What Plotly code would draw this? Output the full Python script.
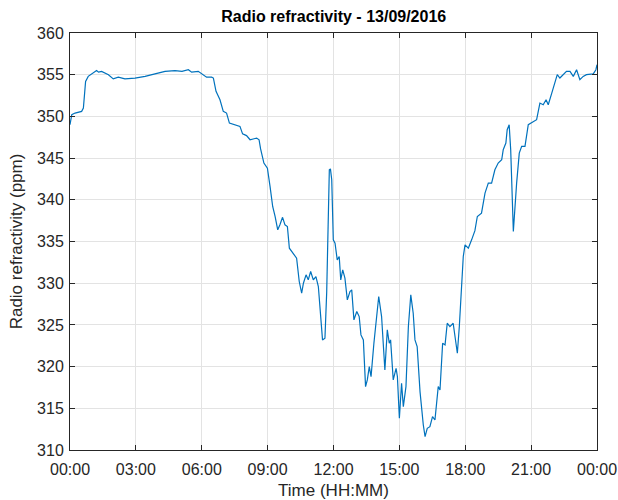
import plotly.graph_objects as go

# Time of day (decimal hours) and radio refractivity (ppm)
hours = [
    0.00, 0.08, 0.23, 0.53, 0.61, 0.71, 0.83, 1.06, 1.21, 1.30, 1.44, 1.75, 1.97,
    2.20, 2.50, 2.96, 3.42, 3.87, 4.33, 4.78, 5.10, 5.39, 5.54, 5.84, 6.07, 6.22,
    6.45, 6.53, 6.65, 6.83, 6.98, 7.13, 7.26, 7.51, 7.74, 7.86, 8.04, 8.20, 8.35,
    8.50, 8.61, 8.68, 8.83, 8.99, 9.11, 9.23, 9.34, 9.46, 9.56, 9.68, 9.79, 9.90,
    9.99, 10.17, 10.32, 10.44, 10.55, 10.63, 10.75, 10.85, 10.96, 11.08, 11.20,
    11.31, 11.38, 11.50, 11.61, 11.69, 11.81, 11.86, 11.92, 11.99, 12.07, 12.17,
    12.26, 12.33, 12.42, 12.52, 12.63, 12.75, 12.83, 12.93, 13.06, 13.17, 13.25,
    13.36, 13.46, 13.54, 13.63, 13.71, 13.84, 14.06, 14.19, 14.34, 14.45, 14.54,
    14.60, 14.72, 14.85, 14.91, 15.00, 15.10, 15.18, 15.30, 15.41, 15.52, 15.63,
    15.71, 15.81, 15.94, 16.09, 16.17, 16.27, 16.39, 16.51, 16.62, 16.77, 16.85,
    16.97, 17.08, 17.18, 17.30, 17.45, 17.53, 17.64, 17.73, 17.80, 17.91, 17.99,
    18.14, 18.29, 18.44, 18.55, 18.74, 18.90, 19.05, 19.20, 19.35, 19.50, 19.66,
    19.73, 19.85, 19.91, 20.00, 20.07, 20.19, 20.34, 20.46, 20.57, 20.72, 20.87,
    21.10, 21.25, 21.40, 21.55, 21.68, 21.78, 21.94, 22.01, 22.13, 22.19, 22.31,
    22.46, 22.61, 22.77, 22.92, 23.07, 23.22, 23.37, 23.52, 23.83, 23.95, 24.00,
]
refractivity = [
    349.0, 350.2, 350.4, 350.6, 351.0, 354.2, 354.8, 355.2, 355.5, 355.3, 355.4, 355.0, 354.5,
    354.7, 354.5, 354.6, 354.8, 355.1, 355.4, 355.5, 355.4, 355.6, 355.3, 355.4, 355.0, 354.7,
    354.7, 354.6, 353.0, 352.0, 350.6, 350.4, 349.2, 349.0, 348.8, 347.9, 347.7, 347.2, 347.3,
    347.4, 347.2, 346.1, 344.4, 343.8, 341.6, 339.2, 338.0, 336.4, 337.0, 337.9, 337.0, 336.8,
    334.2, 333.6, 333.0, 330.2, 328.8, 330.0, 331.0, 330.4, 331.4, 330.4, 330.8,
    329.6, 326.8, 323.2, 323.4, 328.9, 343.6, 343.7, 342.4, 335.2, 334.8, 332.8,
    333.2, 330.4, 331.6, 330.6, 328.0, 329.0, 329.2, 325.6, 326.6, 326.0, 323.8,
    323.2, 317.6, 318.4, 320.0, 318.8, 322.8, 328.4, 326.0, 319.6, 324.4, 322.8,
    323.2, 318.4, 319.8, 318.8, 313.8, 318.0, 315.2, 317.6, 324.8, 328.6, 326.4,
    323.2, 322.4, 317.0, 313.0, 311.6, 312.6, 312.8, 314.0, 313.6, 317.6, 317.2,
    322.8, 322.6, 325.2, 324.8, 325.2, 323.6, 321.6, 324.8, 328.8, 333.2, 334.6,
    334.2, 335.2, 336.3, 338.0, 338.4, 340.8, 342.0, 342.0, 343.6, 344.4, 344.8,
    346.0, 346.8, 348.4, 349.0, 346.0, 336.2, 342.0, 345.6, 346.4, 346.4, 349.0,
    349.4, 349.6, 351.6, 351.4, 352.0, 351.4, 352.8, 353.4, 354.4, 355.0, 354.6,
    355.0, 355.4, 355.4, 354.8, 355.6, 354.4, 354.8, 355.0, 355.1, 355.6, 356.2,
]

tick_hours = [0, 3, 6, 9, 12, 15, 18, 21, 24]
tick_labels = ["00:00", "03:00", "06:00", "09:00", "12:00", "15:00", "18:00", "21:00", "00:00"]

FONT = "Liberation Sans, Arial, Helvetica, sans-serif"
AXIS_COLOR = "#262626"
GRID_COLOR = "#e3e3e3"

fig = go.Figure(
    go.Scatter(
        x=hours,
        y=refractivity,
        mode="lines",
        line=dict(color="#0072BD", width=1.2),
        showlegend=False,
    )
)

axis_common = dict(
    showline=True,
    linecolor=AXIS_COLOR,
    linewidth=1,
    mirror="ticks",
    ticks="inside",
    ticklen=5,
    tickcolor=AXIS_COLOR,
    showgrid=True,
    gridcolor=GRID_COLOR,
    gridwidth=1,
    zeroline=False,
    automargin=False,
    tickfont=dict(family=FONT, size=16, color=AXIS_COLOR),
)

fig.update_xaxes(
    range=[0, 24],
    tickmode="array",
    tickvals=tick_hours,
    ticktext=tick_labels,
    ticklabelstandoff=5,
    title=dict(text="Time (HH:MM)", font=dict(family=FONT, size=17, color=AXIS_COLOR), standoff=9),
    **axis_common,
)
fig.update_yaxes(
    range=[310, 360],
    tick0=310,
    dtick=5,
    ticklabelstandoff=2,
    title=dict(text="Radio refractivity (ppm)", font=dict(family=FONT, size=17, color=AXIS_COLOR), standoff=10),
    **axis_common,
)

fig.update_layout(
    width=618,
    height=500,
    margin=dict(l=70, r=21, t=33, b=50),
    paper_bgcolor="white",
    plot_bgcolor="white",
    title=dict(
        text="<b>Radio refractivity - 13/09/2016</b>",
        x=0.54,
        xanchor="center",
        y=0.968,
        yanchor="middle",
        font=dict(family=FONT, size=16, color="black"),
    ),
)

fig.write_html("out.html")
